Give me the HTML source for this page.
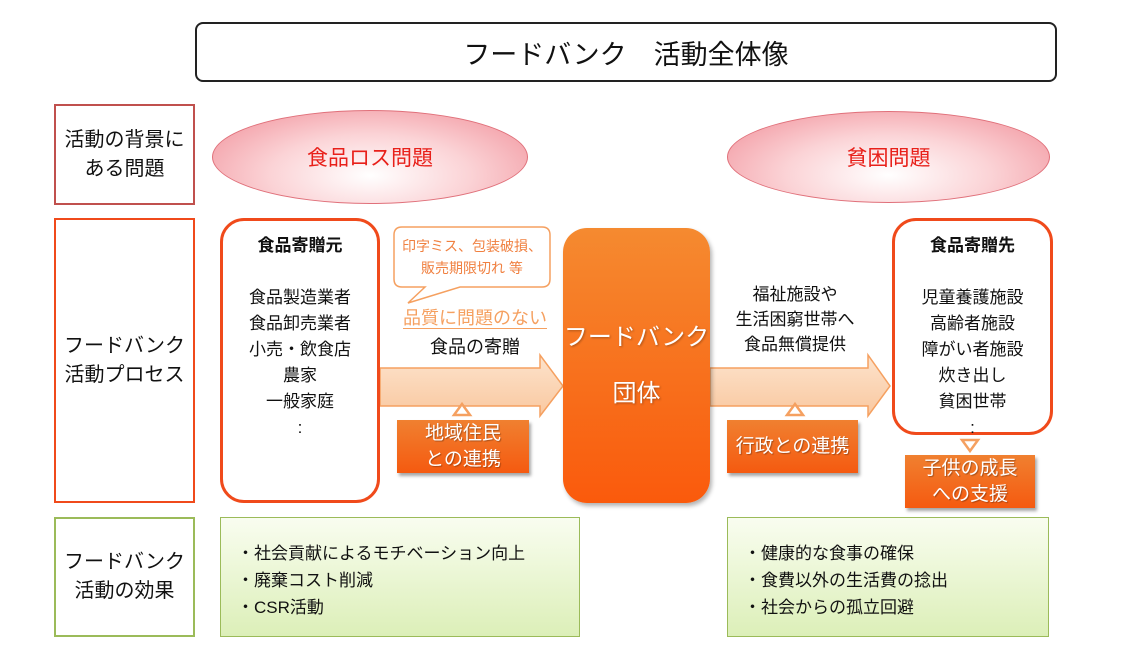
<!DOCTYPE html><html><head><meta charset="utf-8"><style>
body{margin:0;width:1122px;height:665px;background:#fff;position:relative;overflow:hidden;font-family:"Liberation Sans","Noto Sans CJK JP",sans-serif;color:#111}
div{position:absolute;box-sizing:border-box}
.c{display:flex;align-items:center;justify-content:center;text-align:center}
.lbl{left:54px;width:141px;background:#fff;font-size:20px;line-height:29px}
.ell{border:1.5px solid #e0707a;border-radius:50%;background:radial-gradient(ellipse at 50% 70%,#fff 0%,#fbd3d6 45%,#f08c96 100%);color:#e8201a;font-size:21px}
.ob{background:linear-gradient(#f08030,#f55a10);color:#fff;font-size:19px;line-height:26px;box-shadow:2px 3px 3px rgba(0,0,0,.35);text-shadow:1px 1px 1px rgba(0,0,0,.3)}
.g{background:linear-gradient(#f9fdf0,#dcefb8);border:1.5px solid #9bbb59;font-size:17px;line-height:27px;padding:22px 0 0 16px}
</style></head><body>
<div class="c" style="left:195px;top:22px;width:862px;height:60px;border:2px solid #222;border-radius:8px;font-size:27px">フードバンク　活動全体像</div>
<div class="lbl c" style="top:104px;height:101px;border:2px solid #c0504d">活動の背景に<br>ある問題</div>
<div class="lbl c" style="top:218px;height:285px;border:2px solid #f04a1b">フードバンク<br>活動プロセス</div>
<div class="lbl c" style="top:517px;height:120px;border:2px solid #9bbb59">フードバンク<br>活動の効果</div>
<div class="ell c" style="left:212px;top:110px;width:316px;height:94px">食品ロス問題</div>
<div class="ell c" style="left:727px;top:111px;width:323px;height:92px">貧困問題</div>
<svg style="position:absolute;left:0;top:0" width="1122" height="665">
<defs><linearGradient id="a" x1="0" y1="0" x2="0" y2="1"><stop offset="0" stop-color="#fde3cc"/><stop offset="1" stop-color="#f9c8a0"/></linearGradient></defs>
<polygon points="380,368 540,368 540,355 563,386 540,416 540,406 380,406" fill="url(#a)" stroke="#f5a060" stroke-width="1.5"/>
<polygon points="710,368 868,368 868,355 890,386 868,416 868,406 710,406" fill="url(#a)" stroke="#f5a060" stroke-width="1.5"/>
<polygon points="454,415 470,415 462,404" fill="#fff" stroke="#f5a060" stroke-width="2.5"/>
<polygon points="787,415 803,415 795,404" fill="#fff" stroke="#f5a060" stroke-width="2.5"/>
<polygon points="962,440 978,440 970,451" fill="#fff" stroke="#f5a060" stroke-width="2.5"/>
<path d="M402,227 H542 Q550,227 550,235 V279 Q550,287 542,287 H460 L408,303 L425,287 H402 Q394,287 394,279 V235 Q394,227 402,227 Z" fill="#fff" stroke="#f5a060" stroke-width="1.5"/>
</svg>
<div class="c" style="left:394px;top:229px;width:156px;height:56px;color:#f08040;font-size:14px;line-height:22px">印字ミス、包装破損、<br>販売期限切れ 等</div>
<div style="left:390px;top:306px;width:170px;text-align:center;color:#f5a060;font-size:18px;line-height:24px"><span style="border-bottom:1.5px solid #f5a060">品質に問題のない</span></div>
<div style="left:390px;top:333px;width:170px;text-align:center;font-size:18px">食品の寄贈</div>
<div style="left:220px;top:218px;width:160px;height:285px;border:3px solid #f04a1b;border-radius:24px;background:#fff;text-align:center;font-size:17px;line-height:26px;padding-top:12px"><b>食品寄贈元</b><br><br>食品製造業者<br>食品卸売業者<br>小売・飲食店<br>農家<br>一般家庭<br>:</div>
<div style="left:892px;top:218px;width:161px;height:217px;border:3px solid #f04a1b;border-radius:24px;background:#fff;text-align:center;font-size:17px;line-height:26px;padding-top:12px"><b>食品寄贈先</b><br><br>児童養護施設<br>高齢者施設<br>障がい者施設<br>炊き出し<br>貧困世帯<br>:</div>
<div class="c" style="left:563px;top:228px;width:147px;height:275px;border-radius:24px;background:linear-gradient(#f58a30,#fa5a0c);box-shadow:2px 3px 4px rgba(0,0,0,.3);color:#fff;font-size:24px;line-height:56px;text-shadow:1px 1px 2px rgba(0,0,0,.3)">フードバンク<br>団体</div>
<div class="c" style="left:712px;top:282px;width:166px;font-size:17px;line-height:25px">福祉施設や<br>生活困窮世帯へ<br>食品無償提供</div>
<div class="ob c" style="left:397px;top:420px;width:132px;height:53px">地域住民<br>との連携</div>
<div class="ob c" style="left:727px;top:420px;width:131px;height:53px">行政との連携</div>
<div class="ob c" style="left:905px;top:455px;width:130px;height:53px">子供の成長<br>への支援</div>
<div class="g" style="left:220px;top:517px;width:360px;height:120px">・社会貢献によるモチベーション向上<br>・廃棄コスト削減<br>・CSR活動</div>
<div class="g" style="left:727px;top:517px;width:322px;height:120px">・健康的な食事の確保<br>・食費以外の生活費の捻出<br>・社会からの孤立回避</div>
</body></html>
